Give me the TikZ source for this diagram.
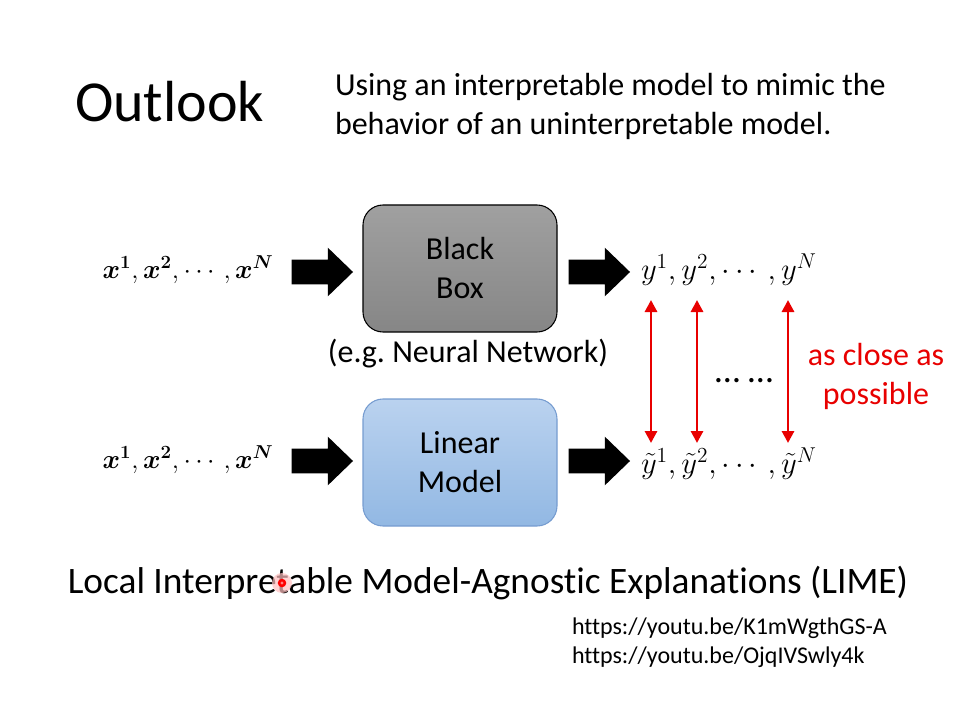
\RequirePackage{fix-cm}
\documentclass[tikz,border=0pt]{standalone}
\usepackage{amsmath,bm}
\usepackage[no-math]{fontspec}
\setmainfont{Carlito}[Ligatures={NoCommon}]
\usetikzlibrary{shapes.arrows,arrows.meta}

\definecolor{bbtop}{RGB}{160,160,160}
\definecolor{bbbot}{RGB}{134,134,134}
\definecolor{lmtop}{RGB}{186,210,239}
\definecolor{lmbot}{RGB}{146,184,227}
\definecolor{lmborder}{RGB}{118,156,208}
\definecolor{myred}{RGB}{232,0,0}

\begin{document}
\frenchspacing
\begin{tikzpicture}[x=0.75pt,y=-0.75pt,
  every node/.style={inner sep=0pt, outer sep=0pt},
  bigarrow/.style={single arrow, fill=black, minimum height=46pt, inner xsep=0pt, inner ysep=9pt,
    single arrow head extend=9pt, single arrow tip angle=88},
  modelbox/.style={rounded corners=15pt, minimum width=145.5pt, minimum height=95.25pt,
    line width=0.8pt, align=center, font=\fontsize{24}{29.25}\selectfont},
  body/.style={font=\fontsize{24}{29.25}\selectfont},
  mathx/.style={font=\fontsize{20}{26}\selectfont},
  mathy/.style={font=\fontsize{23}{26}\selectfont},
  closeness/.style={{Triangle[width=9pt,length=9pt]}-{Triangle[width=9pt,length=9pt]}, line width=2.2pt, draw=myred},
]
\useasboundingbox (0,0) rectangle (960,720);

% title and subtitle
\node[anchor=base west, font=\fontsize{43.5}{50}\selectfont] (title) at (75,122) {Outlook};
\node[anchor=west, body, align=left] (sub) at (335,106) {Using an interpretable model to mimic the\\behavior of an uninterpretable model.};

% boxes
\node[modelbox, draw=black, top color=bbtop, bottom color=bbbot] (bb) at (460,268.5) {Black\\Box};
\node[modelbox, draw=lmborder, top color=lmtop, bottom color=lmbot] (lm) at (460,462.5) {Linear\\Model};
\node[body, anchor=base] (nn) at (468,362) {(e.g. Neural Network)};

% inputs
\node[mathx] (x1) at (188,270) {$\bm{x}^{\bm{1}},\bm{x}^{\bm{2}},\cdots,\bm{x}^{\bm{N}}$};
\node[mathx] (x2) at (188,460) {$\bm{x}^{\bm{1}},\bm{x}^{\bm{2}},\cdots,\bm{x}^{\bm{N}}$};

% block arrows
\node[bigarrow] (a1) at (316,272) {};
\node[bigarrow] (a2) at (593,272) {};
\node[bigarrow] (a3) at (316,461) {};
\node[bigarrow] (a4) at (593,461) {};

% outputs
\node[mathy, anchor=west] (y) at (641,270) {$y^1,y^2,\cdots,y^N$};
\node[mathy, anchor=west] (yt) at (641,464) {$\tilde{y}^1,\tilde{y}^2,\cdots,\tilde{y}^N$};

% closeness arrows
\coordinate (p1) at (651,300); \coordinate (q1) at (651,443);
\coordinate (p2) at (697,300); \coordinate (q2) at (697,443);
\coordinate (p3) at (788,300); \coordinate (q3) at (788,443);
\draw[closeness] (p1) -- (q1);
\draw[closeness] (p2) -- (q2);
\draw[closeness] (p3) -- (q3);
\node[anchor=base, font=\fontsize{27}{30}\selectfont] (dots) at (744,382) {… …};
\node[body, align=center, text=myred] (close) at (876,376) {as close as\\possible};

% bottom line
\node[anchor=base, font=\fontsize{28}{32}\selectfont] (lime) at (488,593) {Local Interpretable Model-Agnostic Explanations (LIME)};
\node[anchor=north west, align=left, font=\fontsize{18}{21.75}\selectfont] (urls) at (572,618) {https://youtu.be/K1mWgthGS-A\\https://youtu.be/OjqIVSwly4k};

% laser pointer dot
\fill[red!25, opacity=0.7] (282,583) circle (7.5pt);
\fill[red] (282,583) circle (3.2pt);
\fill[red!50!white] (282,583) circle (1.2pt);
\end{tikzpicture}
\end{document}
